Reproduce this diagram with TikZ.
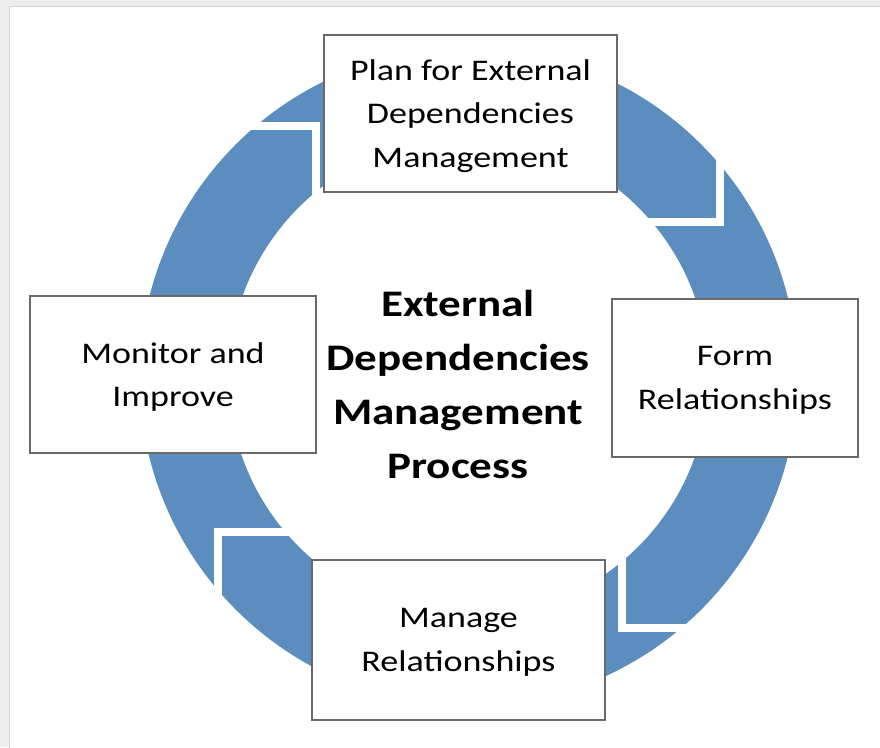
\documentclass[tikz,border=0pt]{standalone}
\usepackage{fontspec}
\setmainfont{Carlito}[FakeStretch=1.2]
\definecolor{ringblue}{RGB}{91,142,191}
\definecolor{boxline}{RGB}{105,105,105}
\definecolor{framegray}{RGB}{238,238,238}
\definecolor{frameline}{RGB}{212,212,212}
\begin{document}
\begin{tikzpicture}[x=1pt,y=-1pt,
  stagebox/.style={draw=boxline, line width=1.4pt, fill=white, align=center,
    inner sep=0pt, text depth=0pt, font=\fontsize{30}{43.5}\selectfont},
  titletext/.style={align=center, font=\bfseries\fontsize{37.5}{54}\selectfont},
  gapline/.style={white, line width=8pt, line join=miter}]
\useasboundingbox (0,0) rectangle (880,747);
% page frame
\fill[framegray] (0,0) rectangle (880,747);
\filldraw[fill=white, draw=frameline, line width=0.8pt] (9.5,6) rectangle (882,749);
% ring
\fill[ringblue, even odd rule] (468.5,377) circle[radius=329pt] (468.5,377) circle[radius=240pt];
% chevron gaps
\coordinate (a1) at (230,126);
\coordinate (a2) at (315.5,126);
\coordinate (a3) at (315.5,232);
\coordinate (b1) at (719.5,120);
\coordinate (b2) at (719.5,221.5);
\coordinate (b3) at (618,221.5);
\coordinate (c1) at (622,528);
\coordinate (c2) at (622,628);
\coordinate (c3) at (722,628);
\coordinate (d1) at (322,532);
\coordinate (d2) at (217.5,532);
\coordinate (d3) at (217.5,642);
\draw[gapline] (a1) -- (a2) -- (a3);
\draw[gapline] (b1) -- (b2) -- (b3);
\draw[gapline] (c1) -- (c2) -- (c3);
\draw[gapline] (d1) -- (d2) -- (d3);
% boxes
\node[stagebox, minimum width=293pt, minimum height=157pt] (plan) at (470.5,113.5)
  {Plan for External\\Dependencies\\Management};
\node[stagebox, minimum width=286pt, minimum height=157pt] (monitor) at (173,374.5)
  {Monitor and\\Improve};
\node[stagebox, minimum width=246pt, minimum height=158pt] (form) at (735,378)
  {Form\\Relationships};
\node[stagebox, minimum width=293pt, minimum height=160pt] (manage) at (458.5,640)
  {Manage\\Relationships};
\node[titletext] (title) at (458,384)
  {External\\Dependencies\\Management\\Process};
\end{tikzpicture}
\end{document}
